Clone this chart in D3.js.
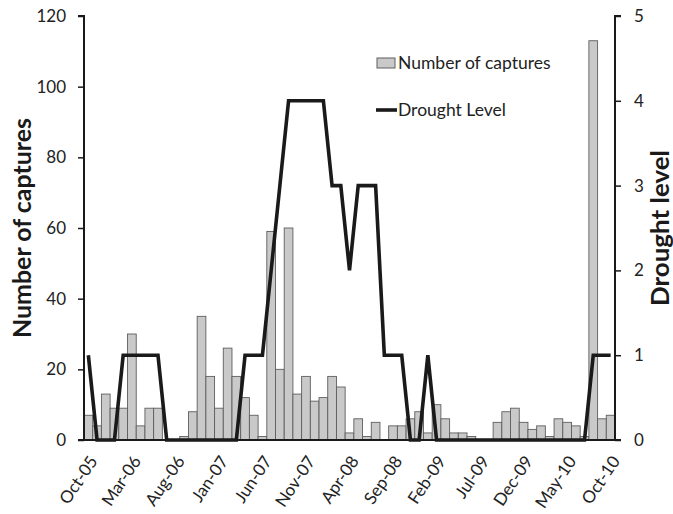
<!DOCTYPE html>
<html>
<head>
<meta charset="utf-8">
<script src="https://cdn.jsdelivr.net/npm/d3@7/dist/d3.min.js"></script>
<style>
  html, body { margin: 0; padding: 0; background: #fff; }
  svg { display: block; font-family: Lato, "Open Sans", sans-serif; }
</style>
</head>
<body>
<svg id="chart" width="673" height="514"></svg>
<script>
const months = ["Oct-05","Nov-05","Dec-05","Jan-06","Feb-06","Mar-06","Apr-06","May-06","Jun-06","Jul-06",
  "Aug-06","Sep-06","Oct-06","Nov-06","Dec-06","Jan-07","Feb-07","Mar-07","Apr-07","May-07",
  "Jun-07","Jul-07","Aug-07","Sep-07","Oct-07","Nov-07","Dec-07","Jan-08","Feb-08","Mar-08",
  "Apr-08","May-08","Jun-08","Jul-08","Aug-08","Sep-08","Oct-08","Nov-08","Dec-08","Jan-09",
  "Feb-09","Mar-09","Apr-09","May-09","Jun-09","Jul-09","Aug-09","Sep-09","Oct-09","Nov-09",
  "Dec-09","Jan-10","Feb-10","Mar-10","Apr-10","May-10","Jun-10","Jul-10","Aug-10","Sep-10","Oct-10"];

const captures = [7,4,13,9,9,30,4,9,9,0,
  0,1,8,35,18,9,26,18,12,7,
  1,59,20,60,13,18,11,12,18,15,
  2,6,1,5,0,4,4,6,8,2,
  10,6,2,2,1,0,0,5,8,9,
  5,3,4,1,6,5,4,1,113,6,7];

const drought = [1,0,0,0,1,1,1,1,1,0,
  0,0,0,0,0,0,0,0,1,1,
  1,2,3,4,4,4,4,4,3,3,
  2,3,3,3,1,1,1,0,0,1,
  0,0,0,0,0,0,0,0,0,0,
  0,0,0,0,0,0,0,0,1,1,1];

const tickLabels = ["Oct-05","Mar-06","Aug-06","Jan-07","Jun-07","Nov-07","Apr-08","Sep-08","Feb-09","Jul-09","Dec-09","May-10","Oct-10"];
const leftTicks = [0,20,40,60,80,100,120];
const rightTicks = [0,1,2,3,4,5];

const svg = d3.select("#chart");
const m = {left: 84, right: 615, top: 16, bottom: 440};

const x = d3.scaleBand().domain(months).range([m.left, m.right]).padding(0);
const yL = d3.scaleLinear().domain([0,120]).range([m.bottom, m.top]);
const yR = d3.scaleLinear().domain([0,5]).range([m.bottom, m.top]);

// bars
svg.append("g").selectAll("rect").data(months).join("rect")
  .attr("x", d => x(d))
  .attr("width", x.bandwidth())
  .attr("y", (d,i) => yL(captures[i]))
  .attr("height", (d,i) => yL(0) - yL(captures[i]))
  .attr("fill", "#c9c9c9")
  .attr("stroke", "#5e5e5e")
  .attr("stroke-width", 0.9);

// drought line
const line = d3.line()
  .x((d,i) => x(months[i]) + x.bandwidth()/2)
  .y(d => yR(d));
svg.append("path").datum(drought)
  .attr("d", line)
  .attr("fill", "none")
  .attr("stroke", "#1a1a1a")
  .attr("stroke-width", 3.6)
  .attr("stroke-linejoin", "miter");

// left axis
const axL = svg.append("g").attr("transform", `translate(${m.left},0)`)
  .call(d3.axisLeft(yL).tickValues(leftTicks).tickSize(6).tickPadding(12).tickFormat(d3.format("d")));
axL.select(".domain").attr("stroke", "#1a1a1a").attr("stroke-width", 2).attr("d", `M-6,${m.top}H0V${m.bottom}H-6`);
axL.selectAll(".tick line").attr("stroke", "#1a1a1a").attr("stroke-width", 1.5);
axL.selectAll(".tick text").attr("font-size", 17).attr("fill", "#222").attr("font-family", "Lato, sans-serif");

// right axis
const axR = svg.append("g").attr("transform", `translate(${m.right},0)`)
  .call(d3.axisRight(yR).tickValues(rightTicks).tickSize(6).tickPadding(13).tickFormat(d3.format("d")));
axR.select(".domain").attr("stroke", "#1a1a1a").attr("stroke-width", 2).attr("d", `M6,${m.top}H0V${m.bottom}H6`);
axR.selectAll(".tick line").attr("stroke", "#1a1a1a").attr("stroke-width", 1.5);
axR.selectAll(".tick text").attr("font-size", 17).attr("fill", "#222").attr("font-family", "Lato, sans-serif");

// bottom axis
const axB = svg.append("g").attr("transform", `translate(0,${m.bottom})`)
  .call(d3.axisBottom(x).tickValues(tickLabels).tickSize(0).tickPadding(0));
axB.select(".domain").attr("stroke", "#1a1a1a").attr("stroke-width", 2).attr("d", `M${m.left},0H${m.right}`);
axB.selectAll(".tick text")
  .attr("font-size", 17).attr("fill", "#222").attr("font-family", "Lato, sans-serif")
  .attr("text-anchor", "end")
  .attr("dy", 0)
  .attr("y", 0)
  .attr("transform", "translate(10,21) rotate(-56)");

// axis titles
svg.append("text")
  .attr("transform", `translate(31,${(m.top+m.bottom)/2}) rotate(-90)`)
  .attr("text-anchor", "middle")
  .attr("font-size", 24).attr("font-weight", "bold").attr("fill", "#1a1a1a")
  .attr("textLength", 220).attr("lengthAdjust", "spacingAndGlyphs")
  .text("Number of captures");
svg.append("text")
  .attr("transform", `translate(669,${(m.top+m.bottom)/2}) rotate(-90)`)
  .attr("text-anchor", "middle")
  .attr("font-size", 24).attr("font-weight", "bold").attr("fill", "#1a1a1a")
  .attr("textLength", 156).attr("lengthAdjust", "spacingAndGlyphs")
  .text("Drought level");

// legend
const lg = svg.append("g");
lg.append("rect").attr("x", 377).attr("y", 58).attr("width", 18).attr("height", 10)
  .attr("fill", "#c9c9c9").attr("stroke", "#5e5e5e").attr("stroke-width", 1);
lg.append("text").attr("x", 398).attr("y", 63).attr("dy", "0.35em")
  .attr("font-size", 17.5).attr("fill", "#222").text("Number of captures");
lg.append("line").attr("x1", 376).attr("x2", 397).attr("y1", 110).attr("y2", 110)
  .attr("stroke", "#1a1a1a").attr("stroke-width", 3.6);
lg.append("text").attr("x", 398).attr("y", 110).attr("dy", "0.35em")
  .attr("font-size", 17.5).attr("fill", "#222").text("Drought Level");
</script>
</body>
</html>
